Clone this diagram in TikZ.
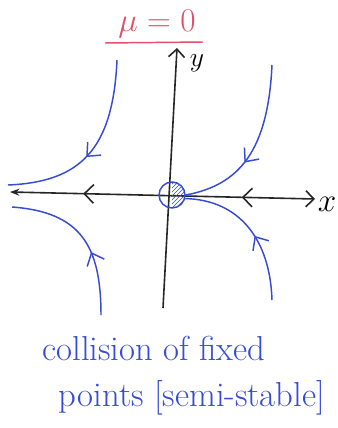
\documentclass[tikz,border=0pt]{standalone}
\usetikzlibrary{arrows.meta,decorations.markings,patterns}
\definecolor{penblue}{RGB}{55,75,215}
\definecolor{penred}{RGB}{225,80,105}
\tikzset{
  traj/.style={penblue, line width=1.1pt},
  flowmark/.style={postaction={decorate, decoration={markings,
      mark=at position #1 with {\arrow{Straight Barb[length=8pt,width=14pt]}}}}},
  axis/.style={black!85, line width=1.2pt},
  hand/.style={font=\fontsize{26}{30}\selectfont}
}
\begin{document}
\begin{tikzpicture}[x=0.75pt, y=-0.75pt]
                    \useasboundingbox (0,0) rectangle (337,428);
                    % Title
                    \node[penred, font=\fontsize{30}{32}\selectfont] (title) at (157,24) {$\mu=0$};
                    \draw[penred, line width=1.1pt] (105,43) -- (203,42);
                    % Axes
                    \coordinate (xl) at (10,192);
                    \coordinate (xr) at (315,199);
                    \coordinate (yb) at (163,308);
                    \coordinate (yt) at (177,48);
                    \draw[axis, {Stealth[length=7pt]}-{Straight Barb[length=6pt,width=12pt]},
                      postaction={decorate, decoration={markings,
                        mark=at position 0.24 with {\arrowreversed{Straight Barb[length=7pt,width=14pt]}},
                        mark=at position 0.76 with {\arrowreversed{Straight Barb[length=7pt,width=14pt]}}}}]
                      (xl) -- (xr);
                    \draw[axis, -{Straight Barb[length=6pt,width=12pt]}] (yb) -- (yt);
                    \node[font=\fontsize{24}{26}\selectfont] (xlab) at (327,204) {$x$};
                    \node[font=\fontsize{22}{24}\selectfont] (ylab) at (197,63) {$y$};
                    % Fixed point
                    \node[circle, draw=penblue, line width=1.1pt, minimum size=19.5pt, inner sep=0pt] (fp) at (172,195) {};
                    \fill[pattern=north east lines, pattern color=penblue] (fp.north) arc[start angle=90, end angle=-90, radius=9.75pt] -- cycle;
                    % Left-hand trajectories
                    \draw[traj, flowmark=0.55] (117,60) .. controls (113,150) and (80,182) .. (8,185);
                    \draw[traj, flowmark=0.4] (101,315) .. controls (101,245) and (80,212) .. (12,207);
                    % Right-hand trajectories
                    \draw[traj, flowmark=0.6] (272,65) .. controls (268,150) and (240,185) .. (fp.east);
                    \draw[traj, flowmark=0.45] (272,300) .. controls (270,240) and (240,200) .. (fp.-15);
                    % Caption
                    \node[penblue, hand] (cap1) at (154,348) {collision of fixed};
                    \node[penblue, hand] (cap2) at (192,398) {points [semi-stable]};
                \end{tikzpicture}
\end{document}
